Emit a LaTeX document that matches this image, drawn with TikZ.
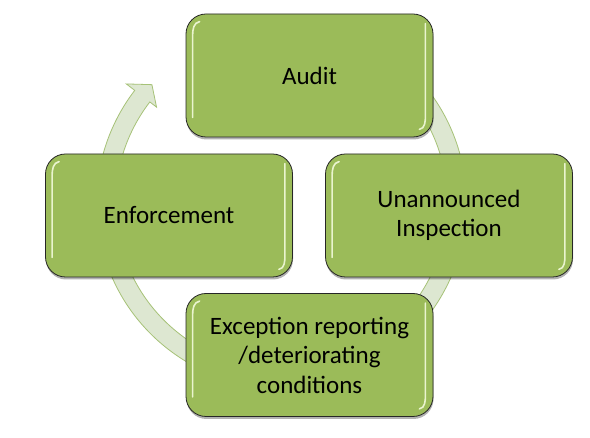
\documentclass[tikz,border=0pt]{standalone}
\usepackage{fontspec}
\setmainfont{Carlito}
\usetikzlibrary{shadows}
\definecolor{boxgreen}{HTML}{9BBB59}
\definecolor{ringfill}{HTML}{DDE7D1}
\definecolor{ringline}{HTML}{A6C277}
\definecolor{hlcol}{HTML}{EAF4CF}
\begin{document}
\begin{tikzpicture}[x=1pt,y=1pt,
  stagebox/.style={draw=black!85, line width=0.8pt, fill=boxgreen, rounded corners=20pt,
    minimum width=247pt, minimum height=123pt, align=center,
    font=\fontsize{25}{29.5}\selectfont,
    drop shadow={shadow xshift=0.5pt, shadow yshift=-2.5pt, opacity=0.3, fill=black}},
  ringarrow/.style={fill=ringfill, draw=ringline, line width=0.8pt, line join=miter},
  hl/.style={draw=hlcol, line width=1.6pt, line cap=round}]
\useasboundingbox (0,0) rectangle (590,-438);
\fill[white] (0,0) rectangle (590,-438);
\coordinate (C) at (281.5,-203);
\draw[ringarrow] ([shift={(C)}]100:185) arc[start angle=100, end angle=-217.5, radius=185]
  -- ([shift={(C)}]-217.5:195.6) -- ([shift={(C)}]-222.4:175.5)
  -- ([shift={(C)}]-217.5:157.5) -- ([shift={(C)}]-217.5:166)
  arc[start angle=-217.5, end angle=100, radius=166] -- cycle;
\node[stagebox] (audit) at (309.5,-75.5) {Audit};
\node[stagebox] (enf) at (169,-215.5) {Enforcement};
\node[stagebox] (insp) at (449,-215.5) {Unannounced\\Inspection};
\node[stagebox] (exc) at (309.5,-355) {Exception reporting\\/deteriorating\\conditions};
\foreach \n in {audit,enf,insp,exc}{
  \draw[hl] ([shift={(7,20)}]\n.south west) -- ([shift={(7,-22)}]\n.north west)
    to[out=90,in=190] ([shift={(14,-8)}]\n.north west);
  \draw[hl] ([shift={(-8,-10)}]\n.north east) -- ([shift={(-8,22)}]\n.south east)
    to[out=-90,in=10] ([shift={(-14,8)}]\n.south east);
}
\end{tikzpicture}
\end{document}
